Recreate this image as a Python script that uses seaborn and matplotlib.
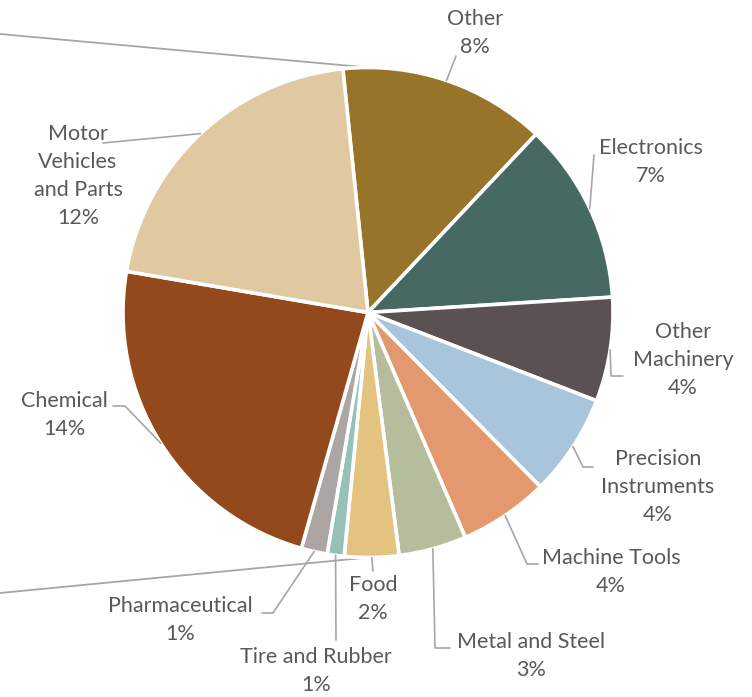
import matplotlib
matplotlib.use("Agg")
import matplotlib.pyplot as plt
import seaborn as sns
import numpy as np

# secondary pie of a pie-of-pie chart (share of total, %)
categories = ["Other", "Electronics", "Other\nMachinery", "Precision\nInstruments",
              "Machine Tools", "Metal and Steel", "Food", "Tire and Rubber",
              "Pharmaceutical", "Chemical", "Motor\nVehicles\nand Parts"]
shares = [8.2, 7.18, 4.12, 4.03, 3.55, 2.68, 2.15, 0.67, 1.03, 13.98, 12.4]
colors = ["#98742A", "#466A62", "#5C5152", "#A9C5DC", "#E3986D", "#B6BD9C",
          "#E3C37F", "#96C1B7", "#ADA4A4", "#93491B", "#E0C9A0"]

# layout (pixel positions in the 752x697 image)
W, H = 752, 697
CX, CY, R = 368, 312.5, 245.0
label_pos = [(475, 33), (651, 162), (683, 360), (658, 487), (611, 572), (531, 656),
             (373, 599), (316, 671), (180, 620), (64, 415), (78, 176)]
leader_pts = [[(456, 56)], [(594, 155)], [(623, 376), (611, 376)],
              [(593, 467), (583, 467)], [(538, 564), (527, 564)],
              [(450, 648), (435, 648)], [(373, 571)], [(336, 640)],
              [(262, 613), (273, 613)], [(113, 406), (125, 406)], [(103, 143)]]


def px(x, y):
    return (x - CX) / R, (CY - y) / R


sns.set_theme(style="white")
plt.rcParams['font.family'] = ['Lato', 'DejaVu Sans']

fig = plt.figure(figsize=(W / 100, H / 100), dpi=100)
ax = fig.add_axes([0, 0, 1, 1])

start = 90 + 5.9
wedges, _ = ax.pie(shares, colors=colors, startangle=start, counterclock=False,
                   radius=1.0, wedgeprops=dict(edgecolor="white", linewidth=2.6))

# connector lines to the (off-screen) primary pie
line_col = "#A6A6A6"
for (lx, ly), end in [((0, 34), (0, 1.0)), ((0, 593), (0, -1.0))]:
    x0, y0 = px(lx, ly)
    ax.plot([x0 - 0.1, end[0]], [y0 + (y0 - end[1]) / (x0 - end[0]) * -0.1, end[1]],
            color=line_col, lw=1.3, zorder=0.5, solid_capstyle="butt")

# labels with leader lines to the mid-angle of each wedge
total = sum(shares)
angle = start
for name, val, pos, pts in zip(categories, shares, label_pos, leader_pts):
    span = val / total * 360
    mid = np.deg2rad(angle - span / 2)
    angle -= span
    ax_, ay_ = np.cos(mid), np.sin(mid)
    xs = [px(*p)[0] for p in pts] + [ax_]
    ys = [px(*p)[1] for p in pts] + [ay_]
    ax.plot(xs, ys, color=line_col, lw=1.2, zorder=3)
    tx, ty = px(*pos)
    ax.text(tx, ty, f"{name}\n{val:.0f}%", ha="center", va="center",
            fontsize=15.5, color="#595959", linespacing=1.5)

ax.set_xlim(-CX / R, (W - CX) / R)
ax.set_ylim(-(H - CY) / R, CY / R)
ax.set_aspect("auto")
ax.axis("off")

fig.savefig("out.png", dpi=100)
